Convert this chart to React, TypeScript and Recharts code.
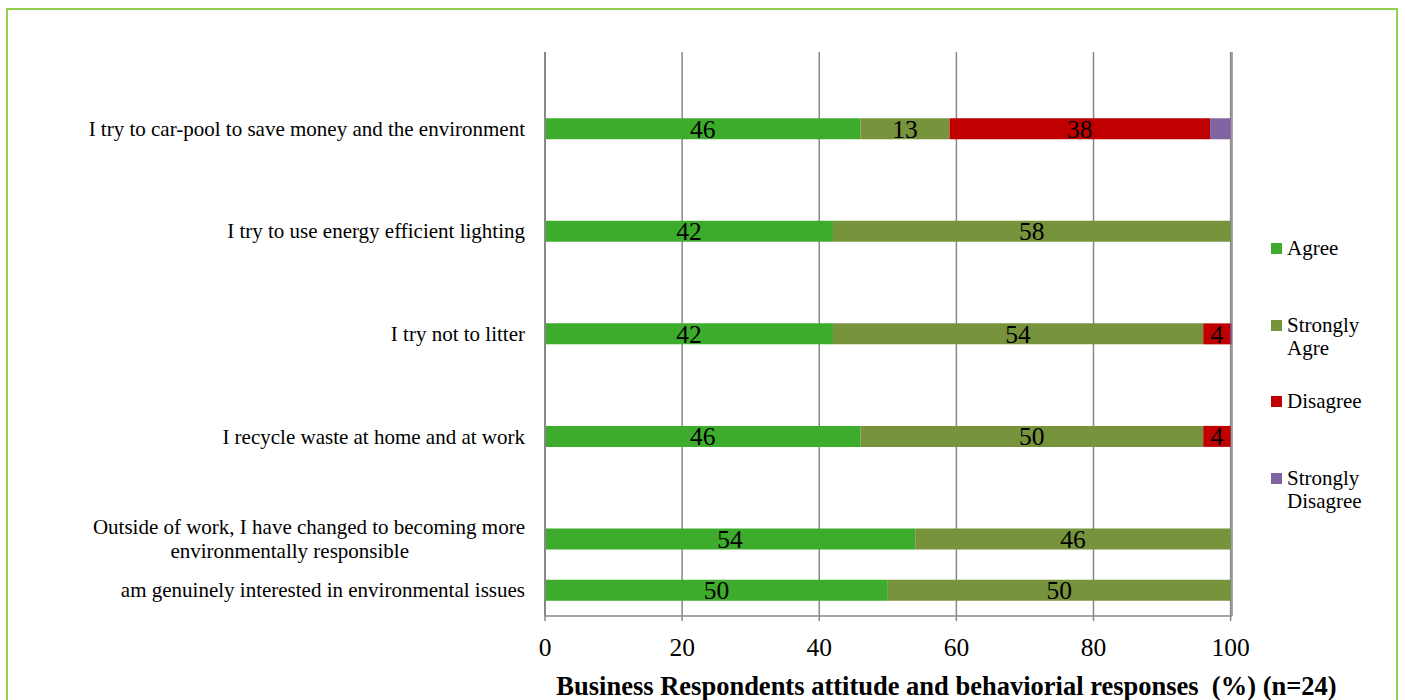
import React from 'react';
import { BarChart, Bar, XAxis, YAxis, CartesianGrid, Legend, LabelList } from 'recharts';

// Blank rows keep the gaps between the statements, as in the original layout
const statements = [
  '',
  'I try to car-pool to save money and the environment',
  '',
  'I try to use energy efficient lighting',
  '',
  'I try not to litter',
  '',
  'I recycle waste at home and at work',
  '',
  'Outside of work, I have changed to becoming more|environmentally responsible',
  'am genuinely interested in environmental issues',
];

const agree = [null, 46, null, 42, null, 42, null, 46, null, 54, 50];
const stronglyAgree = [null, 13, null, 58, null, 54, null, 50, null, 46, 50];
const disagree = [null, 38, null, null, null, 4, null, 4, null, null, null];
const stronglyDisagree = [null, 3, null, null, null, 0.2, null, null, null, null, null];

const xTicks = [0, 20, 40, 60, 80, 100];
const edgeTicks = [0, 1, 2, 3, 4, 5, 6, 7, 8, 9, 10, 11];

const series = [
  { key: 'agree', name: 'Agree', color: '#3dab2b', labels: true },
  { key: 'stronglyAgree', name: 'Strongly Agre', color: '#77933c', labels: true },
  { key: 'disagree', name: 'Disagree', color: '#c00000', labels: true },
  { key: 'stronglyDisagree', name: 'Strongly Disagree', color: '#8064a2', labels: false },
];

const xTitle = 'Business Respondents attitude and behaviorial responses\u00a0\u00a0(%) (n=24)';

const FONT = '"Liberation Serif", "Times New Roman", serif';
const AXIS = '#888888';
const LEGEND_W = 122;

const rows = statements.map((s, i) => ({
  id: `row${i}`,
  label: s,
  agree: agree[i],
  stronglyAgree: stronglyAgree[i],
  disagree: disagree[i],
  stronglyDisagree: stronglyDisagree[i],
}));

const StatementTick = (props: any) => {
  const { x, y, payload } = props;
  const row = rows.find(r => r.id === payload.value);
  if (!row || !row.label) return null;
  const lines = row.label.split('|');
  if (lines.length === 1) {
    return (
      <text x={x} y={y} dy={7} textAnchor="end" fontFamily={FONT} fontSize={21} fill="#000">
        {lines[0]}
      </text>
    );
  }
  return (
    <text textAnchor="end" fontFamily={FONT} fontSize={21} fill="#000">
      <tspan x={x} y={y - 5}>{lines[0]}</tspan>
      <tspan x={x - 116} y={y + 19}>{lines[1]}</tspan>
    </text>
  );
};

const TitleLabel = (props: any) => {
  const { viewBox } = props;
  return (
    <text
      x={viewBox.x + viewBox.width / 2 + 58}
      y={viewBox.y + 79}
      textAnchor="middle"
      fontFamily={FONT}
      fontSize={26.5}
      fontWeight="bold"
      fill="#000"
    >
      {xTitle}
    </text>
  );
};

const SideLegend = (props: any) => {
  const items = props.payload || [];
  const ordered = series.map(s => items.find((p: any) => p.dataKey === s.key) || { value: s.name, color: s.color });
  return (
    <div style={{ fontFamily: FONT, fontSize: 21, color: '#000' }}>
      {ordered.map((item: any) => (
        <div key={item.value} style={{ display: 'flex', alignItems: 'flex-start', height: 76.5 }}>
          <span style={{ width: 11, height: 11, background: item.color, marginTop: 6, marginRight: 5, flexShrink: 0 }} />
          <span style={{ width: 95, lineHeight: '23px' }}>{item.value}</span>
        </div>
      ))}
    </div>
  );
};

export default function App() {
  return (
    <div style={{ position: 'absolute', left: 0, top: 0, width: 1405, height: 700, overflow: 'hidden', background: '#fff' }}>
      <div
        style={{
          position: 'absolute',
          left: 6,
          top: 8,
          width: 1392,
          height: 800,
          boxSizing: 'border-box',
          border: '2px solid #92d050',
        }}
      />
      <BarChart
        width={1405}
        height={700}
        data={rows}
        layout="vertical"
        barSize={21}
        margin={{ top: 52, right: 173 - LEGEND_W, bottom: 0, left: 8 }}
        style={{ position: 'absolute', left: 0, top: 0 }}
      >
        <CartesianGrid horizontal={false} stroke={AXIS} strokeWidth={1.5} />
        <XAxis
          type="number"
          domain={[0, 100]}
          ticks={xTicks}
          height={84}
          stroke={AXIS}
          strokeWidth={1.5}
          tickSize={5}
          tickMargin={17}
          tick={{ fill: '#000', fontSize: 25.5, fontFamily: FONT }}
          label={{ content: <TitleLabel /> }}
        />
        <YAxis
          yAxisId="q"
          type="category"
          dataKey="id"
          width={537}
          stroke={AXIS}
          strokeWidth={2}
          tickLine={false}
          tickMargin={14}
          interval={0}
          tick={<StatementTick />}
        />
        <YAxis
          yAxisId="edges"
          type="number"
          domain={[0, 11]}
          ticks={edgeTicks}
          width={0}
          axisLine={false}
          tickSize={6}
          tickLine={{ stroke: AXIS, strokeWidth: 1.5 }}
          tickFormatter={() => ''}
          interval={0}
        />
        {series.map(s => (
          <Bar key={s.key} dataKey={s.key} name={s.name} stackId="a" yAxisId="q" fill={s.color} isAnimationActive={false}>
            {s.labels && (
              <LabelList dataKey={s.key} position="center" fill="#000" fontSize={25.5} fontFamily={FONT} />
            )}
          </Bar>
        ))}
        <Legend
          layout="vertical"
          align="right"
          verticalAlign="top"
          content={<SideLegend />}
          wrapperStyle={{ left: 1271, top: 237, width: LEGEND_W }}
        />
      </BarChart>
    </div>
  );
}
